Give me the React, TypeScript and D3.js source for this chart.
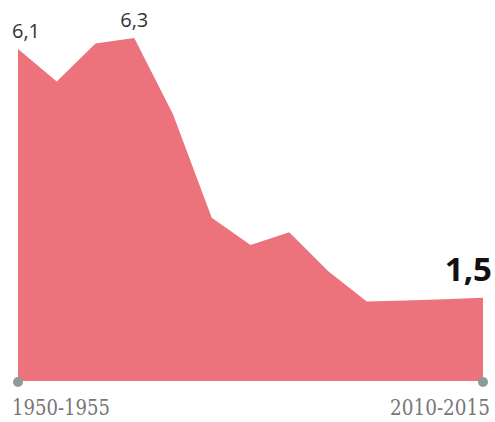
import React from "react";
import * as d3 from "d3";

const periods = [
  "1950-1955", "1955-1960", "1960-1965", "1965-1970", "1970-1975", "1975-1980",
  "1980-1985", "1985-1990", "1990-1995", "1995-2000", "2000-2005", "2005-2010", "2010-2015",
];
const values = [6.1, 5.5, 6.2, 6.3, 4.9, 3.0, 2.5, 2.73, 2.02, 1.46, 1.48, 1.5, 1.53];
const valueLabels = ["6,1", "", "", "6,3", "", "", "", "", "", "", "", "", "1,5"];
const axisLabels = ["1950-1955", "2010-2015"];

export default function App() {
  const W = 495, H = 422;
  const x = d3.scalePoint<string>().domain(periods).range([18, 483]);
  const y = d3.scaleLinear().domain([0, 6.3]).range([381, 38]);
  const data = periods.map((p, i) => ({ p, v: values[i] }));
  const area = d3.area<{ p: string; v: number }>()
    .x(d => x(d.p)!)
    .y0(y(0))
    .y1(d => y(d.v));
  const last = periods.length - 1;
  const sx = 0.8;
  return (
    <svg width={W} height={H} style={{ position: "absolute", left: 0, top: 0, background: "#fff" }}>
      <path d={area(data) || ""} fill="#ec737c" />
      <circle cx={x(periods[0])} cy={382} r={5} fill="#8d9b95" />
      <circle cx={x(periods[last])} cy={382} r={5} fill="#8d9b95" />
      <text x={x(periods[0])! - 6} y={y(values[0]) - 11} fontFamily="Open Sans, sans-serif" fontSize={20} fill="#333">{valueLabels[0]}</text>
      <text x={x(periods[3])! - 14} y={y(values[3]) - 11} fontFamily="Open Sans, sans-serif" fontSize={20} fill="#333">{valueLabels[3]}</text>
      <text x={492} y={y(values[last]) - 17} textAnchor="end" fontFamily="Open Sans, sans-serif" fontWeight="bold" fontSize={33} fill="#111">{valueLabels[last]}</text>
      <g transform={`translate(12,415) scale(${sx},1)`}>
        <text x={0} y={0} fontFamily="DejaVu Serif, serif" fontSize={22} fill="#777" textLength={98 / sx} lengthAdjust="spacingAndGlyphs">{axisLabels[0]}</text>
      </g>
      <g transform={`translate(390,415) scale(${sx},1)`}>
        <text x={0} y={0} fontFamily="DejaVu Serif, serif" fontSize={22} fill="#777" textLength={100 / sx} lengthAdjust="spacingAndGlyphs">{axisLabels[1]}</text>
      </g>
    </svg>
  );
}
